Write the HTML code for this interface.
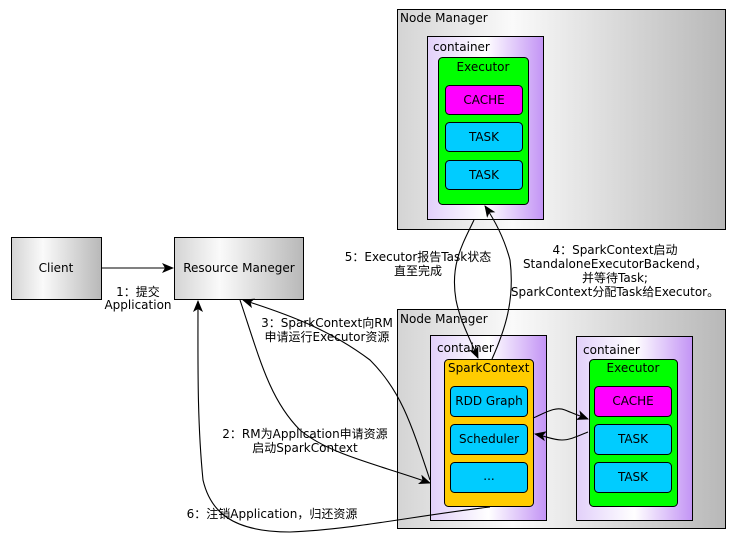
<!DOCTYPE html>
<html><head><meta charset="utf-8"><style>body{margin:0;background:#fff}svg{display:block}text{font-family:"DejaVu Sans","Liberation Sans","Noto Sans CJK SC",sans-serif;font-size:12px;fill:#000}</style></head><body>
<svg width="738" height="548" viewBox="0 0 738 548" xmlns="http://www.w3.org/2000/svg">
<defs>
<linearGradient id="g" x1="0" x2="1"><stop offset="0" stop-color="#d4d4d4"/><stop offset="0.35" stop-color="#fafafa"/><stop offset="1" stop-color="#b8b8b8"/></linearGradient>
<linearGradient id="p" x1="0" x2="1"><stop offset="0" stop-color="#e2d0fa"/><stop offset="0.5" stop-color="#ffffff"/><stop offset="1" stop-color="#c394f5"/></linearGradient>
<marker id="a" markerWidth="12" markerHeight="10" refX="11" refY="5" orient="auto" markerUnits="userSpaceOnUse"><path d="M0,0 L12,5 L0,10 L3,5 z" fill="#000"/></marker>
</defs>
<g stroke="#000" stroke-width="1">
<rect x="397.5" y="9.5" width="328" height="220" fill="url(#g)"/>
<rect x="427.5" y="36.5" width="116" height="183" fill="url(#p)"/>
<rect x="438.5" y="57.5" width="90" height="147" rx="4" fill="#00ff00"/>
<rect x="445.5" y="85.5" width="77" height="29" rx="4" fill="#ff00ff"/>
<rect x="445.5" y="122.5" width="77" height="29" rx="4" fill="#00ccff"/>
<rect x="445.5" y="160.5" width="77" height="29" rx="4" fill="#00ccff"/>
<rect x="11.5" y="237.5" width="90" height="62" fill="url(#g)"/>
<rect x="174.5" y="237.5" width="129" height="62" fill="url(#g)"/>
<rect x="397.5" y="309.5" width="328" height="219" fill="url(#g)"/>
<rect x="430.5" y="335.5" width="116" height="185" fill="url(#p)"/>
<rect x="444.5" y="359.5" width="89" height="147" rx="4" fill="#ffcc00"/>
<rect x="450.5" y="386.5" width="77" height="30" rx="4" fill="#00ccff"/>
<rect x="450.5" y="424.5" width="77" height="30" rx="4" fill="#00ccff"/>
<rect x="450.5" y="462.5" width="77" height="30" rx="4" fill="#00ccff"/>
<rect x="576.5" y="336.5" width="116" height="184" fill="url(#p)"/>
<rect x="589.5" y="359.5" width="88" height="147" rx="4" fill="#00ff00"/>
<rect x="594.5" y="386.5" width="77" height="30" rx="4" fill="#ff00ff"/>
<rect x="594.5" y="424.5" width="77" height="30" rx="4" fill="#00ccff"/>
<rect x="594.5" y="462.5" width="77" height="30" rx="4" fill="#00ccff"/>
</g>
<g fill="none" stroke="#000" stroke-width="1.1">
<path d="M101,268 L173,268" marker-end="url(#a)"/>
<path d="M240,300 C260,360 270,400 300,430 C330,455 380,465 430,483" marker-end="url(#a)"/>
<path d="M430,480 C410,420 400,390 370,360 C330,330 290,315 243,300" marker-end="url(#a)"/>
<path d="M490,507 C420,515 350,530 290,532 C230,532 210,510 203,480 C197,420 198,360 198,301" marker-end="url(#a)"/>
<path d="M474,220 C462,245 450,265 456,300 C460,320 468,335 478,358" marker-end="url(#a)"/>
<path d="M492,359 C505,330 515,300 510,260 C506,245 498,225 485,206" marker-end="url(#a)"/>
<path d="M533,418 C545,413 555,406 565,410 C572,413 580,416 588,419" marker-end="url(#a)"/>
<path d="M588,432 C578,436 570,440 562,440 C553,440 545,436 535,434" marker-end="url(#a)"/>
</g>
<text x="400" y="22">Node Manager</text>
<text x="433" y="51">container</text>
<text x="483" y="71" text-anchor="middle">Executor</text>
<text x="484" y="104" text-anchor="middle">CACHE</text>
<text x="484" y="141" text-anchor="middle">TASK</text>
<text x="484" y="179" text-anchor="middle">TASK</text>
<text x="56" y="272" text-anchor="middle">Client</text>
<text x="239" y="272" text-anchor="middle">Resource Maneger</text>
<text x="138" y="296" text-anchor="middle">1：提交</text>
<text x="138" y="309" text-anchor="middle">Application</text>
<text x="418" y="261" text-anchor="middle">5：Executor报告Task状态</text>
<text x="418" y="275" text-anchor="middle">直至完成</text>
<text x="615" y="254" text-anchor="middle">4：SparkContext启动</text>
<text x="615" y="268" text-anchor="middle">StandaloneExecutorBackend，</text>
<text x="615" y="282" text-anchor="middle">并等待Task;</text>
<text x="615" y="296" text-anchor="middle">SparkContext分配Task给Executor。</text>
<text x="327" y="327" text-anchor="middle">3：SparkContext向RM</text>
<text x="327" y="341" text-anchor="middle">申请运行Executor资源</text>
<text x="305" y="438" text-anchor="middle">2：RM为Application申请资源</text>
<text x="305" y="452" text-anchor="middle">启动SparkContext</text>
<text x="272" y="518" text-anchor="middle">6：注销Application，归还资源</text>
<text x="400" y="323">Node Manager</text>
<text x="437" y="352">container</text>
<text x="448" y="372">SparkContext</text>
<text x="489" y="405" text-anchor="middle">RDD Graph</text>
<text x="489" y="443" text-anchor="middle">Scheduler</text>
<text x="489" y="480" text-anchor="middle">...</text>
<text x="583" y="354">container</text>
<text x="633" y="372" text-anchor="middle">Executor</text>
<text x="633" y="405" text-anchor="middle">CACHE</text>
<text x="633" y="443" text-anchor="middle">TASK</text>
<text x="633" y="481" text-anchor="middle">TASK</text>
</svg>
</body></html>
